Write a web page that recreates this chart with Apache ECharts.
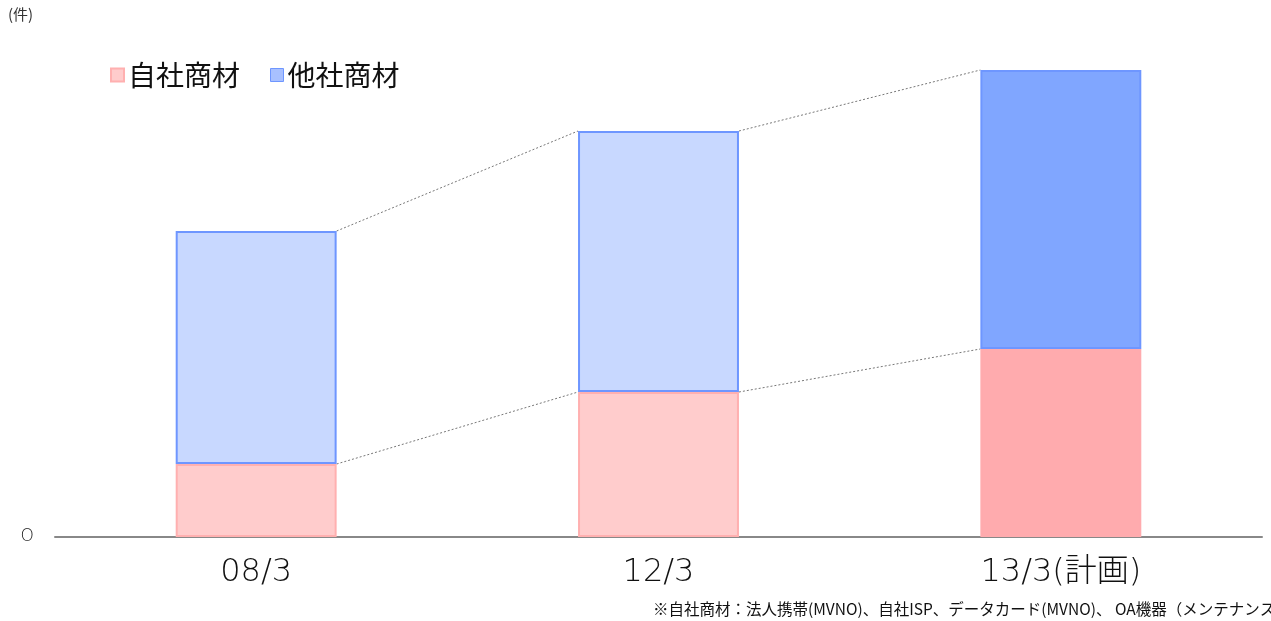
<!DOCTYPE html>
<html>
<head>
<meta charset="utf-8">
<script src="https://cdn.jsdelivr.net/npm/echarts@6/dist/echarts.min.js"></script>
<style>
  html, body { margin: 0; padding: 0; background: #fff; }
  #chart { width: 1271px; height: 621px; }
</style>
</head>
<body>
<div id="chart"></div>
<script>
// 件数（目盛りがないので画像から読み取った概算値）
const categories = ['08/3', '12/3', '13/3(計画)']
const ownValues = [73, 145, 188]      // 自社商材
const otherValues = [233, 261, 279]   // 他社商材
const seriesNames = ['自社商材', '他社商材']

const totals = ownValues.map((v, i) => v + otherValues[i])

// 連結線（隣のバーの上端同士を点線で結ぶ）
const pairs = (arr) => arr.slice(0, -1).map((v, i) => [i, v, arr[i + 1]])

const barWidthRatio = 0.4
const connector = (data) => ({
  type: 'custom',
  data: data,
  silent: true,
  z: 1,
  renderItem: (params, api) => {
    const i = api.value(0)
    const a = api.coord([i, api.value(1)])
    const b = api.coord([i + 1, api.value(2)])
    const half = api.size([1, 0])[0] * barWidthRatio / 2
    return {
      type: 'line',
      shape: {x1: a[0] + half, y1: a[1], x2: b[0] - half, y2: b[1]},
      style: {stroke: '#777', lineWidth: 1, lineDash: [2, 2]}
    }
  }
})

const ownStyles = [
  {color: '#FFCCCC', borderColor: '#FFB0B0'},
  {color: '#FFCCCC', borderColor: '#FFB0B0'},
  {color: '#FFABAE', borderColor: '#FFABAE'}
]
const otherStyles = [
  {color: '#C8D8FF', borderColor: '#6E96FF'},
  {color: '#C8D8FF', borderColor: '#6E96FF'},
  {color: '#80A6FF', borderColor: '#6E96FF'}
]

const myChart = echarts.init(document.getElementById('chart'))
const option = {
  animation: false,
  textStyle: {fontFamily: '"Noto Sans CJK JP", sans-serif'},
  grid: {left: 55, right: 9, top: 37, bottom: 84},
  legend: {
    data: [
      {name: seriesNames[0], itemStyle: {color: '#FFCCCC', borderColor: '#FFB0B0', borderWidth: 2}},
      {name: seriesNames[1], itemStyle: {color: '#A8C0FF', borderColor: '#6E96FF', borderWidth: 1}}
    ],
    left: 105,
    top: 56,
    icon: 'rect',
    itemWidth: 13,
    itemHeight: 13,
    itemGap: 30,
    textStyle: {fontSize: 28, color: '#111', padding: [0, 0, 0, -1]}
  },
  xAxis: {
    type: 'category',
    data: categories,
    axisTick: {show: false},
    axisLine: {lineStyle: {color: '#888', width: 2}},
    axisLabel: {fontSize: 32, color: '#111', margin: 20, fontWeight: 200, fontFamily: '"DejaVu Sans", "Noto Sans CJK JP"'}
  },
  yAxis: {
    type: 'value',
    min: 0,
    max: 500,
    interval: 500,
    splitLine: {show: false},
    axisLabel: {
      fontSize: 17, color: '#222', margin: 21, fontWeight: 200, fontFamily: '"DejaVu Sans"',
      padding: [4, 0, 0, 0],
      formatter: (v) => v === 0 ? 'O' : ''
    }
  },
  series: [
    {
      name: seriesNames[0],
      type: 'bar',
      stack: 'total',
      barWidth: (barWidthRatio * 100) + '%',
      data: ownValues.map((v, i) => ({value: v, itemStyle: Object.assign({borderWidth: 2}, ownStyles[i])})),
      z: 2
    },
    {
      name: seriesNames[1],
      type: 'bar',
      stack: 'total',
      data: otherValues.map((v, i) => ({value: v, itemStyle: Object.assign({borderWidth: 2}, otherStyles[i])})),
      z: 2
    },
    connector(pairs(ownValues)),
    connector(pairs(totals))
  ],
  graphic: [
    {type: 'text', left: 8, top: 7, style: {text: '(件)', fill: '#333', font: '15px "Noto Sans CJK JP"'}},
    {type: 'text', left: 653, top: 601, style: {text: '※自社商材：法人携帯(MVNO)、自社ISP、データカード(MVNO)、 OA機器（メンテナンス）', fill: '#111', font: '15.5px "Noto Sans CJK JP"'}}
  ]
}
myChart.setOption(option)
</script>
</body>
</html>
